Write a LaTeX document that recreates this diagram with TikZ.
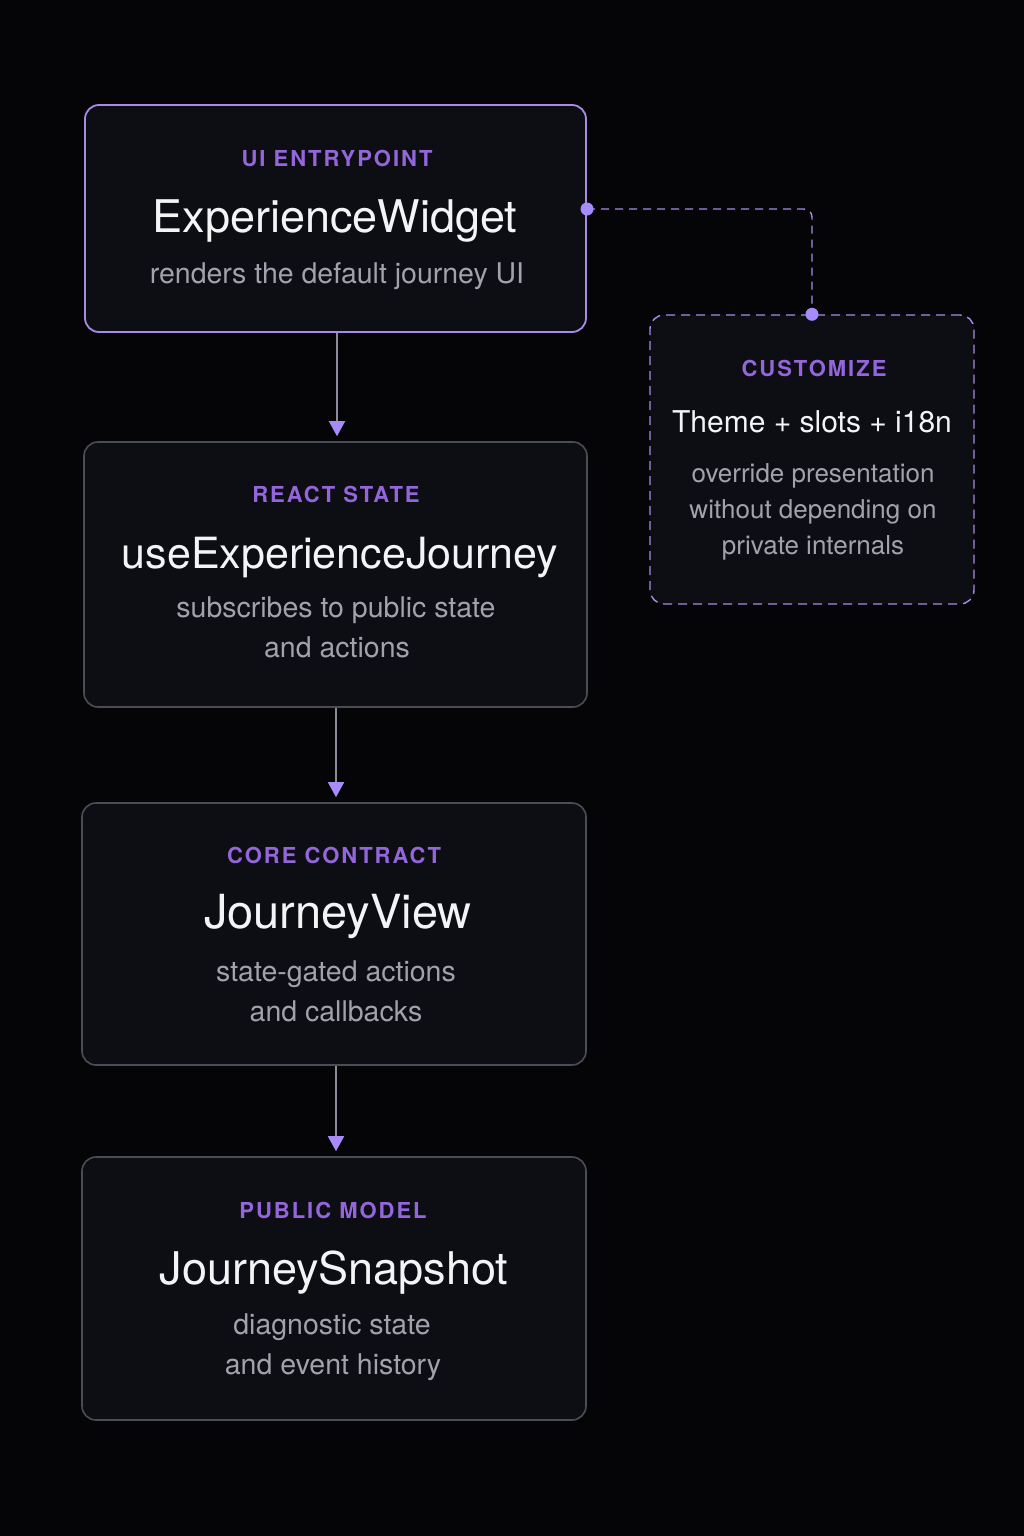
\documentclass[tikz,border=0pt]{standalone}
\usepackage{fontspec}
\setmainfont{TeX Gyre Heros}
\newfontfamily\lblfont[LetterSpace=9]{TeX Gyre Heros}
\usetikzlibrary{arrows.meta}
\definecolor{bg}{HTML}{050507}
\definecolor{boxfill}{HTML}{0D0E14}
\definecolor{lbl}{HTML}{9466DC}
\definecolor{purpleedge}{HTML}{A98AE8}
\definecolor{grayedge}{HTML}{4B4D56}
\definecolor{ttl}{HTML}{F4F4F6}
\definecolor{sub}{HTML}{A2A2AD}
\definecolor{linegray}{HTML}{8C8C96}
\definecolor{tip}{HTML}{A78BFA}
\tikzset{
  card/.style={draw=grayedge, line width=1.6pt, fill=boxfill, rounded corners=14pt, inner sep=0pt},
  cardpurple/.style={card, draw=purpleedge, line width=1.8pt},
  carddash/.style={card, draw=purpleedge, line width=1.4pt, dash pattern=on 9pt off 6pt},
  lbltext/.style={text=lbl, font=\lblfont\bfseries\fontsize{22}{26}\selectfont, inner sep=0pt, anchor=base},
  ttltext/.style={text=ttl, font=\fontsize{45}{50}\selectfont, inner sep=0pt, anchor=base},
  ttlsmall/.style={text=ttl, font=\fontsize{30}{36}\selectfont, inner sep=0pt, anchor=base},
  subtext/.style={text=sub, font=\fontsize{28.5}{32}\selectfont, inner sep=0pt, anchor=base},
  subsmall/.style={text=sub, font=\fontsize{26}{30}\selectfont, inner sep=0pt, anchor=base},
  flow/.style={draw=linegray, line width=1.6pt, -{Triangle[width=16pt,length=15pt,color=tip]}, shorten >=5pt},
  dashlink/.style={draw=purpleedge, line width=1.4pt, dash pattern=on 8pt off 6pt, rounded corners=8pt},
  dot/.style={circle, fill=tip, inner sep=0pt, minimum size=13pt}
}
\begin{document}
\begin{tikzpicture}[x=1pt,y=-1pt]
\path[fill=bg] (0,0) rectangle (1024,1536);
\useasboundingbox (0,0) rectangle (1024,1536);

% cards
\node[cardpurple, minimum width=501pt, minimum height=227pt] (b1) at (335.5,218.5) {};
\node[card, minimum width=503pt, minimum height=265pt] (b2) at (335.5,574.5) {};
\node[card, minimum width=504pt, minimum height=262pt] (b3) at (334,934) {};
\node[card, minimum width=504pt, minimum height=263pt] (b4) at (334,1288.5) {};
\node[carddash, minimum width=324pt, minimum height=289pt] (cust) at (812,459.5) {};

% card 1
\node[lbltext] (l1) at (337,166) {UI ENTRYPOINT};
\node[ttltext] (t1) at (335,232) {ExperienceWidget};
\node[subtext] (s1) at (337,283) {renders the default journey UI};

% card 2
\node[lbltext] (l2) at (336,502) {REACT STATE};
\node[ttltext, font=\fontsize{43}{50}\selectfont] (t2) at (340,568) {useExperienceJourney};
\node[subtext] (s2a) at (336,617) {subscribes to public state};
\node[subtext] (s2b) at (337,657) {and actions};

% card 3
\node[lbltext] (l3) at (334,863) {CORE CONTRACT};
\node[ttltext, font=\fontsize{47}{50}\selectfont] (t3) at (338,928) {JourneyView};
\node[subtext] (s3a) at (336,981) {state-gated actions};
\node[subtext] (s3b) at (336,1021) {and callbacks};

% card 4
\node[lbltext] (l4) at (333,1218) {PUBLIC MODEL};
\node[ttltext] (t4) at (334,1284) {JourneySnapshot};
\node[subtext] (s4a) at (332,1334) {diagnostic state};
\node[subtext] (s4b) at (333,1374) {and event history};

% customize
\node[lbltext] (l5) at (814,376) {CUSTOMIZE};
\node[ttlsmall] (t5) at (812,432) {Theme + slots + i18n};
\node[subsmall] (s5a) at (813,482) {override presentation};
\node[subsmall] (s5b) at (813,518) {without depending on};
\node[subsmall] (s5c) at (813,554) {private internals};

% flow arrows
\draw[flow] (b1.south -| 337,0) -- (b2.north -| 337,0);
\draw[flow] (b2.south -| 336,0) -- (b3.north -| 336,0);
\draw[flow] (b3.south -| 336,0) -- (b4.north -| 336,0);

% dashed link
\coordinate (p1) at (587,209);
\coordinate (p2) at (cust.north);
\draw[dashlink] (p1) -| (p2);
\node[dot] (d1) at (p1) {};
\node[dot] (d2) at (p2) {};
\end{tikzpicture}
\end{document}
